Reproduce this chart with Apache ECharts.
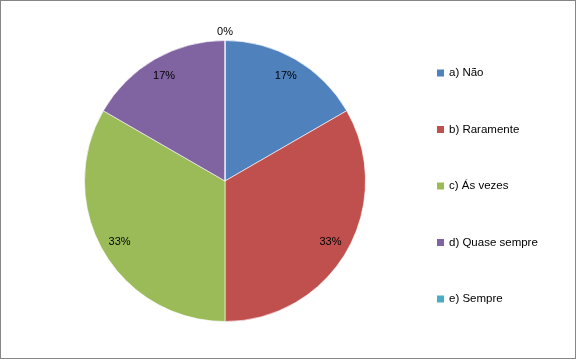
<!DOCTYPE html>
<html><head><meta charset="utf-8">
<script src="https://cdn.jsdelivr.net/npm/echarts@6/dist/echarts.min.js"></script>
<style>
html,body{margin:0;padding:0;background:#fff;}
#wrap{position:absolute;left:0;top:0;width:574px;height:357px;border:1px solid #868686;}
#chart{width:574px;height:357px;}
</style></head>
<body>
<div id="wrap"><div id="chart"></div></div>
<script>
const categories = ['a) Não', 'b) Raramente', 'c) Ás vezes', 'd) Quase sempre', 'e) Sempre'];
const values = [1, 2, 2, 1, 0];
const colors = ['#4F81BD', '#C0504D', '#9BBB59', '#8064A2', '#4BACC6'];

const font = 'Liberation Sans, Arial, sans-serif';
const data = categories.map((c, i) => ({ name: c, value: values[i], itemStyle: { color: colors[i] } }));
const pct = p => Math.round(p.percent) + '%';
const center = [224, 180];
const R = 140.5;

const chart = echarts.init(document.getElementById('chart'));
chart.setOption({
  animation: false,
  legend: {
    orient: 'vertical', left: 436, top: 65, padding: 0,
    itemWidth: 7, itemHeight: 7, itemGap: 42.5,
    icon: 'rect',
    itemStyle: { borderWidth: 0 },
    textStyle: { fontFamily: font, fontSize: 11.5, color: '#000', lineHeight: 14 },
    data: categories
  },
  series: [
    {
      type: 'pie', center: center, radius: [0, R], startAngle: 90, clockwise: true,
      data: data, label: { show: false }, labelLine: { show: false },
      itemStyle: { borderColor: '#ffffff', borderWidth: 0.6 },
      emphasis: { disabled: true }, silent: true
    },
    {
      type: 'pie', center: center, radius: [97, R], startAngle: 90, clockwise: true,
      data: data.map(d => ({ name: d.name, value: d.value, itemStyle: { color: 'rgba(0,0,0,0)' } })),
      label: { show: true, position: 'inside', fontFamily: font, fontSize: 11, color: '#000',
        formatter: p => p.value > 0 ? pct(p) : '' },
      labelLine: { show: false }, itemStyle: { borderWidth: 0 },
      emphasis: { disabled: true }, silent: true, legendHoverLink: false
    },
    {
      type: 'pie', center: center, radius: [R, 151.5], startAngle: 90, clockwise: true,
      data: data.map(d => ({ name: d.name, value: d.value, itemStyle: { color: 'rgba(0,0,0,0)' } })),
      label: { show: true, position: 'inside', fontFamily: font, fontSize: 11, color: '#000',
        formatter: p => p.value === 0 ? pct(p) : '' },
      labelLine: { show: false }, itemStyle: { borderWidth: 0 },
      emphasis: { disabled: true }, silent: true, legendHoverLink: false
    }
  ]
});
</script>
</body></html>
